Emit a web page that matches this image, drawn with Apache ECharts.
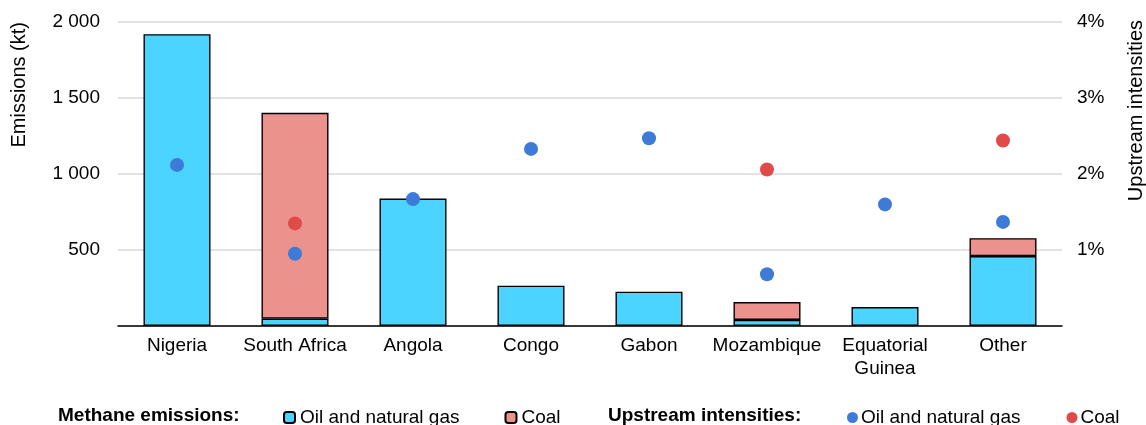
<!DOCTYPE html>
<html>
<head>
<meta charset="utf-8">
<script src="https://cdn.jsdelivr.net/npm/echarts@6/dist/echarts.min.js"></script>
<style>
  html, body { margin: 0; padding: 0; background: #fff; }
  #chart { width: 1146px; height: 425px; }
</style>
</head>
<body>
<div id="chart"></div>
<script>
// Methane emissions by country (kt) and upstream intensities (%)
const countries = ['Nigeria', 'South Africa', 'Angola', 'Congo', 'Gabon', 'Mozambique', 'Equatorial\nGuinea', 'Other'];
const oilGasEmissions = [1920, 48, 838, 265, 226, 40, 125, 460];
const coalEmissions   = [0, 1355, 0, 0, 0, 118, 0, 118];
const oilGasIntensity = [2.12, 0.95, 1.67, 2.33, 2.47, 0.68, 1.60, 1.37];
const coalIntensity   = [null, 1.35, null, null, null, 2.06, null, 2.44];

const leftTicks  = [0, 500, 1000, 1500, 2000];
const rightTicks = [0, 1, 2, 3, 4];

const FONT = 'Liberation Sans, Arial, sans-serif';
const FS = 19;
const CYAN = '#4BD4FF';
const PINK = '#EC928D';
const BLUE = '#3E7BD8';
const RED = '#E24A4A';

const chart = echarts.init(document.getElementById('chart'), null, { renderer: 'canvas' });

const spaceNum = v => {
  const s = String(v);
  return s.length > 3 ? s.slice(0, s.length - 3) + ' ' + s.slice(-3) : s;
};

const legendNames = {
  'Oil and natural gas': 'Oil and natural gas',
  'Coal': 'Coal',
  'Intensity oil and natural gas': 'Oil and natural gas',
  'Intensity coal': 'Coal'
};

chart.setOption({
  animation: false,
  textStyle: { fontFamily: FONT },
  grid: { left: 118, right: 84, top: 22, bottom: 99 },
  xAxis: {
    type: 'category',
    data: countries,
    axisLine: { show: true, lineStyle: { color: '#000', width: 1.5 } },
    axisTick: { show: false },
    axisLabel: { color: '#000', fontSize: FS, fontFamily: FONT, margin: 8, lineHeight: 23, interval: 0 }
  },
  yAxis: [
    {
      type: 'value', min: leftTicks[0], max: leftTicks[leftTicks.length - 1], interval: 500,
      axisLine: { show: false }, axisTick: { show: false },
      splitLine: { lineStyle: { color: '#d9d9d9', width: 1.5 } },
      axisLabel: { color: '#000', fontSize: FS, fontFamily: FONT, margin: 18,
        formatter: v => v === 0 ? '' : spaceNum(v) }
    },
    {
      type: 'value', min: rightTicks[0], max: rightTicks[rightTicks.length - 1], interval: 1,
      position: 'right',
      axisLine: { show: false }, axisTick: { show: false },
      splitLine: { show: false },
      axisLabel: { color: '#000', fontSize: FS, fontFamily: FONT, margin: 15,
        formatter: v => v === 0 ? '' : v + '%' }
    }
  ],
  legend: [
    {
      left: 278, top: 403, itemWidth: 11, itemHeight: 11, itemGap: 45,
      data: ['Oil and natural gas', 'Coal'],
      textStyle: { color: '#000', fontSize: FS, fontFamily: FONT, padding: [0, 0, 0, 0] },
      formatter: n => legendNames[n]
    },
    {
      left: 842, top: 403, itemWidth: 11, itemHeight: 11, itemGap: 46,
      data: [
        { name: 'Intensity oil and natural gas', icon: 'circle' },
        { name: 'Intensity coal', icon: 'circle' }
      ],
      textStyle: { color: '#000', fontSize: FS, fontFamily: FONT, padding: [0, 0, 0, -2] },
      formatter: n => legendNames[n]
    }
  ],
  graphic: [
    { type: 'text', x: 58, y: 416,
      style: { text: 'Methane emissions:', font: 'bold ' + FS + 'px ' + FONT, fill: '#000', textVerticalAlign: 'middle' } },
    { type: 'text', x: 608, y: 416,
      style: { text: 'Upstream intensities:', font: 'bold ' + FS + 'px ' + FONT, fill: '#000', textVerticalAlign: 'middle' } },
    { type: 'text', x: 19, y: 22, rotation: Math.PI / 2,
      style: { text: 'Emissions (kt)', font: '20px ' + FONT, fill: '#000', textAlign: 'right', textVerticalAlign: 'middle' } },
    { type: 'text', x: 1136, y: 20, rotation: Math.PI / 2,
      style: { text: 'Upstream intensities', font: '20px ' + FONT, fill: '#000', textAlign: 'right', textVerticalAlign: 'middle' } }
  ],
  series: [
    {
      name: 'Oil and natural gas', type: 'bar', stack: 'emis', data: oilGasEmissions,
      barWidth: 67,
      itemStyle: { color: CYAN, borderColor: '#000', borderWidth: 1.4 }
    },
    {
      name: 'Coal', type: 'bar', stack: 'emis',
      data: coalEmissions.map(v => v === 0 ? null : v),
      barWidth: 67,
      itemStyle: { color: PINK, borderColor: '#000', borderWidth: 1.4 }
    },
    {
      name: 'Intensity oil and natural gas', type: 'scatter', yAxisIndex: 1,
      data: oilGasIntensity, symbolSize: 14, z: 5,
      itemStyle: { color: BLUE, opacity: 1 }
    },
    {
      name: 'Intensity coal', type: 'scatter', yAxisIndex: 1,
      data: coalIntensity, symbolSize: 14, z: 5,
      itemStyle: { color: RED, opacity: 1 }
    }
  ]
});
</script>
</body>
</html>
